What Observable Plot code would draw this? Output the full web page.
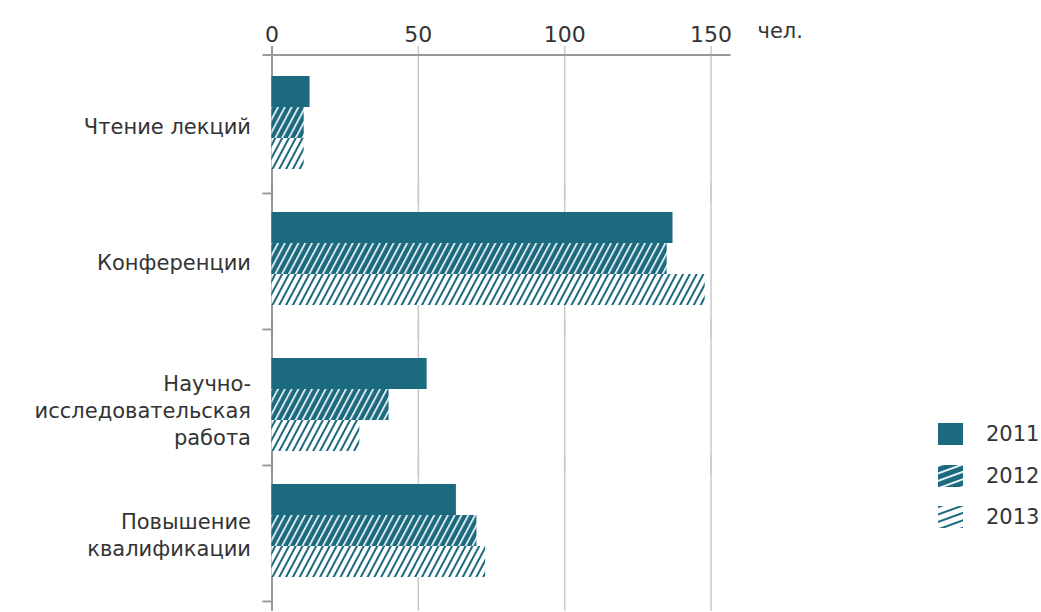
<!DOCTYPE html>
<html><head><meta charset="utf-8">
<script src="https://cdn.jsdelivr.net/npm/d3@7"></script>
<script src="https://cdn.jsdelivr.net/npm/@observablehq/plot@0.6"></script>
<style>
body{margin:0;background:#fff;font-family:"DejaVu Sans",sans-serif;}
#wrap{position:relative;width:1041px;height:612px;overflow:hidden;}
#legend{position:absolute;left:938px;top:423px;}
.item{display:flex;align-items:center;height:22px;margin-bottom:19.5px;}
.item svg{display:block;margin-right:23px;}
.item span{font-size:21px;color:#333;}
</style></head><body>
<svg width="0" height="0" style="position:absolute">
<defs>
<pattern id="h2012" patternUnits="userSpaceOnUse" width="6" height="6" patternTransform="rotate(28)">
 <rect width="6" height="6" fill="#1b6a80"/>
 <rect x="0" y="0" width="1.6" height="6" fill="#fff"/>
</pattern>
<pattern id="h2013" patternUnits="userSpaceOnUse" width="6" height="6" patternTransform="rotate(28)">
 <rect width="6" height="6" fill="#fff"/>
 <rect x="0" y="0" width="2" height="6" fill="#1b6a80"/>
</pattern>
<pattern id="l2012" patternUnits="userSpaceOnUse" width="7" height="7" patternTransform="rotate(-20)">
 <rect width="7" height="7" fill="#1b6a80"/>
 <rect x="0" y="0" width="7" height="1.8" fill="#fff"/>
</pattern>
<pattern id="l2013" patternUnits="userSpaceOnUse" width="7" height="7" patternTransform="rotate(-20)">
 <rect width="7" height="7" fill="#fff"/>
 <rect x="0" y="0" width="7" height="2" fill="#1b6a80"/>
</pattern>
</defs>
</svg>
<div id="wrap"><div id="chart"></div><div id="legend"></div></div>
<script>
const categories = ["Чтение лекций", "Конференции", "Научно-\nисследовательская\nработа", "Повышение\nквалификации"];
const years = ["2011", "2012", "2013"];
const values2011 = [13, 137, 53, 63];
const values2012 = [11, 135, 40, 70];
const values2013 = [11, 148, 30, 73];
const xTicks = [0, 50, 100, 150];
const unitLabel = "чел.";
const barFills = ["#1b6a80", "url(#h2012)", "url(#h2013)"];
const legendFills = ["#1b6a80", "url(#l2012)", "url(#l2013)"];

const series = [values2011, values2012, values2013];
const rows = categories.flatMap((c, i) => years.map((y, j) => ({cat: c, year: y, value: series[j][i]})));
const shifted = categories[2];

const font = '"DejaVu Sans", sans-serif';
const chart = Plot.plot({
  width: 1041, height: 612,
  marginLeft: 271.5, marginRight: 312, marginTop: 55, marginBottom: 10,
  x: {domain: [0, 156.3], axis: null, label: null},
  y: {domain: years, paddingInner: 0, paddingOuter: 0.65, align: 0.45, axis: null},
  fy: {domain: categories, padding: 0, axis: null},
  color: {domain: years, range: barFills},
  style: {fontFamily: font, fontSize: "21px", color: "#333", background: "transparent"},
  marks: [
    Plot.ruleX(xTicks.slice(1), {stroke: "#cacaca", strokeWidth: 1.5, insetTop: -11, insetBottom: -10}),
    Plot.ruleX([0], {stroke: "#8e8e8e", strokeWidth: 1.8, insetTop: -11, insetBottom: -10}),
    Plot.barX(rows.filter(d => d.cat !== shifted), {fy: "cat", y: "year", x: "value", fill: "year"}),
    Plot.barX(rows.filter(d => d.cat === shifted), {fy: "cat", y: "year", x: "value", fill: "year", dy: 10}),
    Plot.frame({anchor: "top", stroke: "#9a9a9a", strokeWidth: 2, insetLeft: -8.5, dy: -2.5, facet: "super"}),
    Plot.frame({anchor: "bottom", stroke: "#9a9a9a", strokeWidth: 2, insetLeft: -8.5, insetRight: 457.5}),
    Plot.text(categories.filter(c => c !== shifted), {fy: d => d, text: d => d, frameAnchor: "left", textAnchor: "end", dx: -21, lineHeight: 1.28, fill: "#333"}),
    Plot.text([shifted], {fy: d => d, text: d => d, frameAnchor: "left", textAnchor: "end", dx: -21, dy: 12, lineHeight: 1.28, fill: "#333"}),
    Plot.axisX({anchor: "top", ticks: xTicks, tickSize: 0, tickPadding: 16, fontSize: 22, fill: "#333", label: null}),
    Plot.text([unitLabel], {text: d => d, frameAnchor: "top-right", facet: "super", dx: 28, dy: -26, textAnchor: "start", lineAnchor: "middle", fontSize: 21, fill: "#333"})
  ]
});
document.getElementById("chart").appendChild(chart);

const legend = document.getElementById("legend");
years.forEach((y, i) => {
  const item = document.createElement("div");
  item.className = "item";
  item.innerHTML = `<svg width="25" height="22"><rect width="25" height="22" fill="${legendFills[i]}"/></svg><span>${y}</span>`;
  legend.appendChild(item);
});
</script>
</body></html>
